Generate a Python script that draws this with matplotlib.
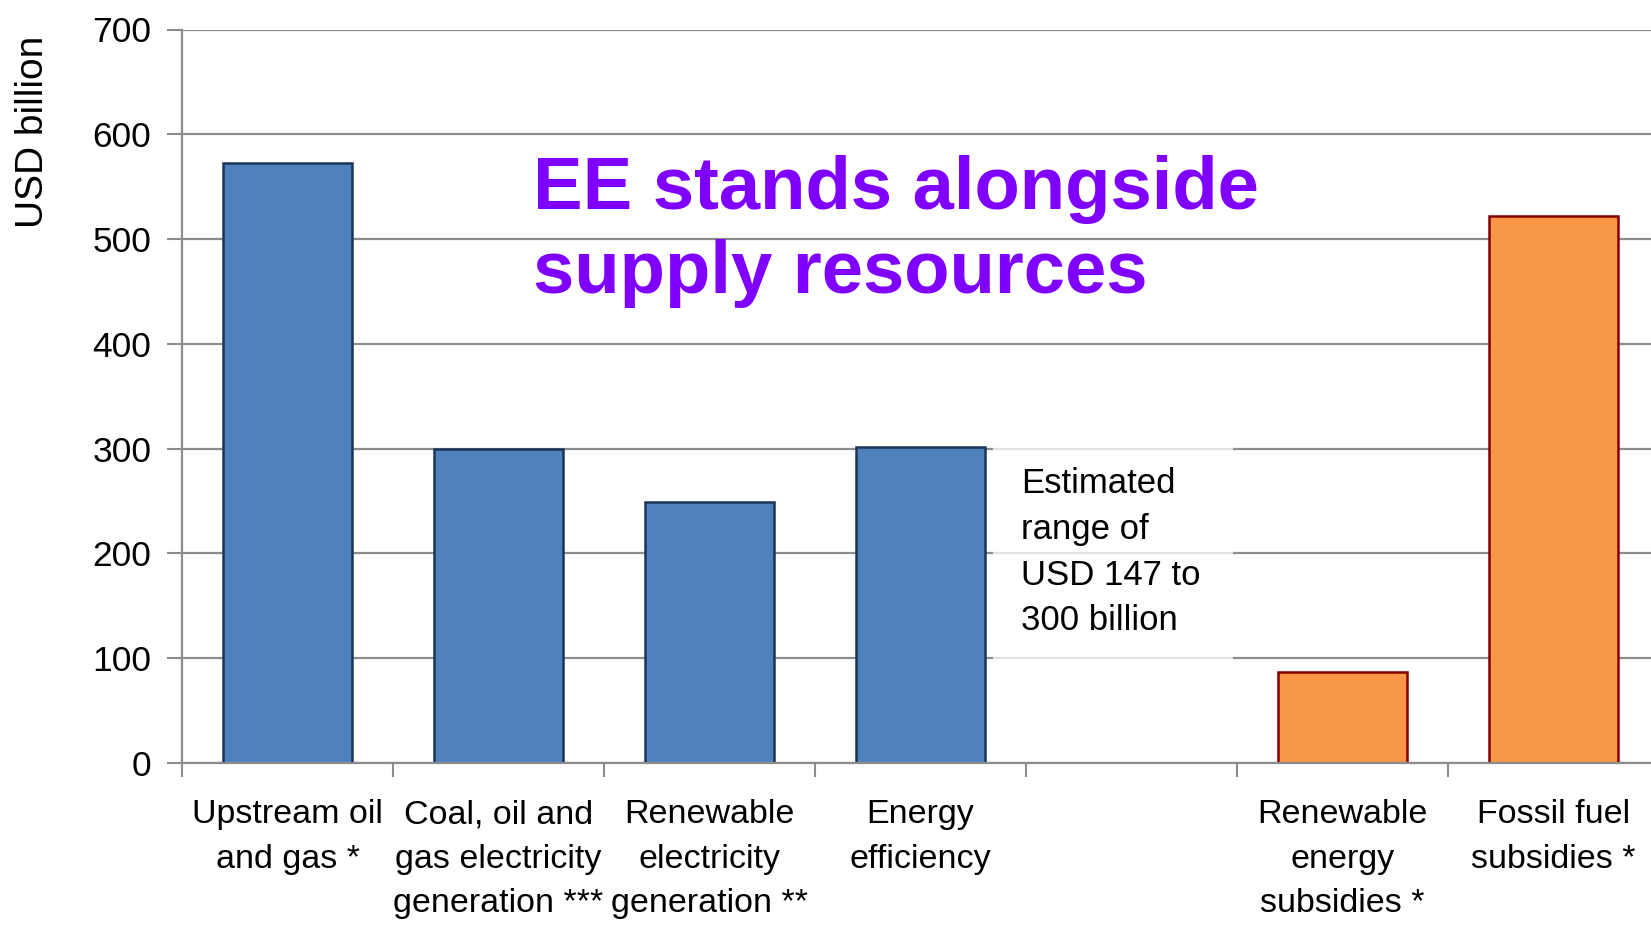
import matplotlib
matplotlib.use('Agg')
import matplotlib.pyplot as plt
from matplotlib.patches import Rectangle

# values (USD billion)
categories = [
    "Upstream oil\nand gas *",
    "Coal, oil and\ngas electricity\ngeneration ***",
    "Renewable\nelectricity\ngeneration **",
    "Energy\nefficiency",
    "",
    "Renewable\nenergy\nsubsidies *",
    "Fossil fuel\nsubsidies *",
]
values = [573, 300, 249, 302, None, 87, 522]
groups = ["invest", "invest", "invest", "invest", None, "subsidy", "subsidy"]
y_ticks = [0, 100, 200, 300, 400, 500, 600, 700]

title_text = "EE stands alongside\nsupply resources"
note_text = "Estimated\nrange of\nUSD 147 to\n300 billion"

C_FACE = {"invest": "#4F81BD", "subsidy": "#F79646"}
C_EDGE = {"invest": "#1B355A", "subsidy": "#850000"}
C_GRID = "#8C8C8C"
C_TITLE = "#8000FF"

REG = ['Liberation Sans', 'DejaVu Sans']

fig = plt.figure(figsize=(16.51, 9.25), dpi=100)
ax = fig.add_axes([182 / 1651, 1 - 763 / 925, 1477 / 1651, (763 - 29.5) / 925])

for i, (v, g) in enumerate(zip(values, groups)):
    if v is None:
        continue
    ax.bar(i, v, width=0.61, color=C_FACE[g], edgecolor=C_EDGE[g],
           linewidth=1.8, zorder=2)

ax.set_xlim(-0.5, len(categories) - 0.5)
ax.set_ylim(0, 700)
ax.set_yticks(y_ticks)
ax.set_yticklabels([str(t) for t in y_ticks], family=REG, fontsize=25.5)

ax.set_xticks(range(len(categories)))
ax.set_xticklabels(categories, family=REG, fontsize=24.5, linespacing=1.57, va='top')
ax.set_xticks([i - 0.5 for i in range(len(categories) + 1)], minor=True)
ax.tick_params(axis='x', which='major', length=0, pad=26)
ax.tick_params(axis='x', which='minor', length=10, width=1.5, color=C_GRID)
ax.tick_params(axis='y', length=11, width=1.5, color=C_GRID, pad=11)

ax.set_axisbelow(True)
ax.yaxis.grid(True, color=C_GRID, linewidth=1.6)
for s in ['top', 'right']:
    ax.spines[s].set_visible(False)
for s in ['left', 'bottom']:
    ax.spines[s].set_color(C_GRID)
    ax.spines[s].set_linewidth(1.6)

ax.set_ylabel("USD billion", family=REG, fontsize=28)
ax.yaxis.set_label_coords(-0.089, 0.86)

# translucent box behind the range note
ax.add_patch(Rectangle((3.343, 50), 1.137, 280, facecolor='white', alpha=0.75,
                       edgecolor='none', zorder=1))
ax.text(3.476, 201, note_text, family=REG, fontsize=25, linespacing=1.49,
        ha='left', va='center', zorder=3)

ax.text(1.163, 507, title_text, family=REG, fontweight='bold', fontsize=53.5,
        color=C_TITLE, linespacing=1.28, ha='left', va='center', zorder=3)

fig.savefig("out.png", dpi=100)
